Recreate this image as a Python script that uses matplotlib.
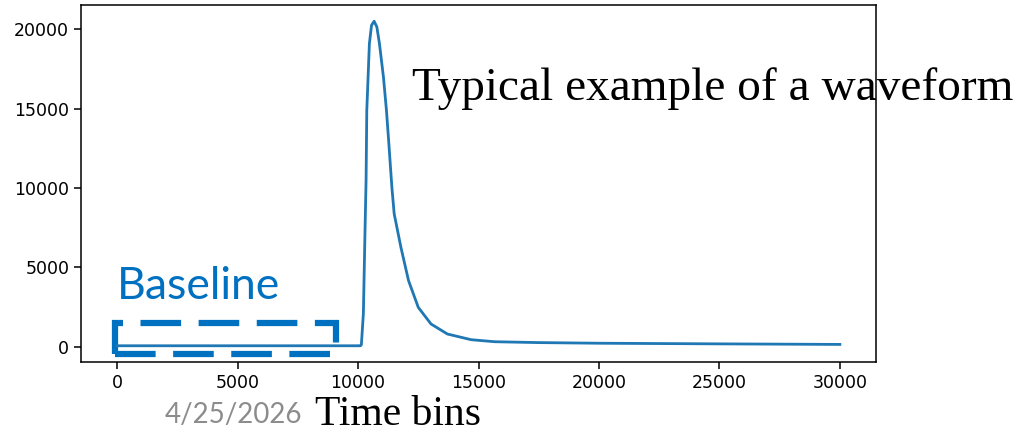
import numpy as np
import matplotlib.pyplot as plt
from matplotlib.patches import Rectangle

# Waveform samples (time bin, amplitude)
time_bins = [0, 5000, 10100, 10138, 10221, 10292, 10333, 10363, 10471,
             10560, 10667, 10780, 10888, 11054, 11179, 11279, 11404,
             11500, 11779, 12096, 12500, 13029, 13708, 14696, 15667,
             17500, 20000, 25000, 30000]
amplitude = [60, 60, 60, 120, 2082, 7500, 10470, 14890, 19098,
             20250, 20505, 20150, 19098, 16990, 14890, 12789, 10050,
             8372, 6265, 4164, 2480, 1432, 801, 442, 315,
             260, 220, 180, 145]

xticks = [0, 5000, 10000, 15000, 20000, 25000, 30000]
yticks = [0, 5000, 10000, 15000, 20000]

fig = plt.figure(figsize=(10.24, 4.33), dpi=100)
ax = fig.add_axes([81 / 1024, 1 - 362 / 433, 795 / 1024, 357 / 433])

ax.plot(time_bins, amplitude, color='#1f77b4', lw=2.0)
ax.set_xticks(xticks)
ax.set_yticks(yticks)
ax.tick_params(labelsize=12.5, length=5, width=1.1)
for s in ax.spines.values():
    s.set_linewidth(1.1)

# Baseline box
ax.add_patch(Rectangle((-100, -480), 9200, 1950, fill=False, edgecolor='#0070C0',
                       lw=4.5, ls=(0, (6.5, 2.8)), clip_on=False))
ax.text(0, 3000, 'Baseline', color='#0070C0', fontsize=32, family='Lato')

fig.text(412 / 1024, 1 - 100 / 433, 'Typical example of a waveform',
         fontsize=34, family='Liberation Serif')
fig.text(315 / 1024, 1 - 425 / 433, 'Time bins', fontsize=30, family='Liberation Serif')
fig.text(165 / 1024, 1 - 423 / 433, '4/25/2026', fontsize=20, color='#8c8c8c',
         family='Lato')

plt.savefig('out.png', dpi=100)
